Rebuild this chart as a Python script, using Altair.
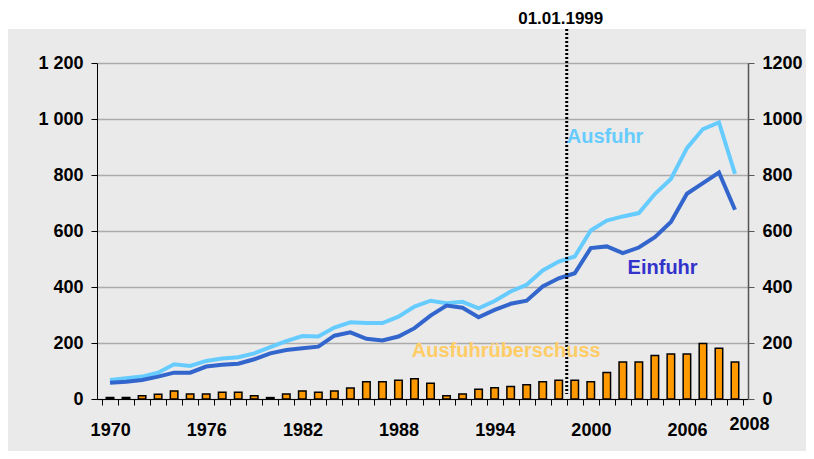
import altair as alt
import pandas as pd

years = list(range(1970, 2010))
ausfuhr = [68, 74, 80, 94, 124, 118, 136, 145, 149, 163, 185, 207, 225, 223, 255,
           274, 271, 271, 294, 330, 351, 342, 347, 324, 350, 384, 408, 459, 491, 509,
           602, 637, 652, 664, 732, 786, 896, 964, 988, 804]
einfuhr = [58, 62, 68, 80, 94, 94, 116, 122, 126, 142, 163, 175, 181, 187, 226,
           238, 215, 209, 223, 253, 298, 334, 326, 292, 318, 340, 351, 402, 431, 449,
           539, 545, 521, 541, 578, 632, 733, 771, 809, 676]
ueberschuss = [5, 5, 12, 17, 29, 18, 18, 24, 24, 12, 5, 18, 29, 24, 29,
               39, 62, 62, 67, 72, 56, 12, 18, 35, 40, 45, 51, 62, 67, 67,
               62, 95, 132, 132, 155, 161, 161, 198, 181, 132]
series_names = ["Ausfuhr", "Einfuhr"]
series_colors = ["#66CCFF", "#3366CC"]
y_ticks = [0, 200, 400, 600, 800, 1000, 1200]
x_label_years = [1970, 1976, 1982, 1988, 1994, 2000, 2006]
euro_start = 1998.5  # boundary 1998/1999

FONT = "Liberation Sans"

bars_df = pd.DataFrame({"year": years, "value": ueberschuss})
lines_df = pd.DataFrame({
    "year": years * 2,
    "value": ausfuhr + einfuhr,
    "series": ["Ausfuhr"] * len(years) + ["Einfuhr"] * len(years),
})

xs = alt.Scale(domain=[1969.5, 2009.5], nice=False, zero=False)
ys = alt.Scale(domain=[0, 1200], nice=False, zero=False)

boundaries = [1969.5 + i for i in range(len(years) + 1)]
label_expr = ("indexof([" + ",".join(str(y - 0.5) for y in x_label_years) +
              "], datum.value) >= 0 ? format(datum.value + 0.5, 'd') : ''")

x_axis = alt.Axis(values=boundaries, labelExpr=label_expr, labelOffset=8.14,
                  tickSize=6, tickColor="black", domainColor="black", domainWidth=1,
                  labelFont=FONT, labelFontSize=18, labelFontWeight="bold",
                  labelColor="black", labelPadding=16, labelOverlap=False,
                  labelFlush=False, labelBound=False, grid=False, title=None)

y_left = alt.Axis(values=y_ticks, orient="left",
                  labelExpr="replace(format(datum.value, ','), ',', ' ')",
                  tickSize=6, tickColor="black", domainColor="black",
                  labelFont=FONT, labelFontSize=18, labelFontWeight="bold",
                  labelColor="black", labelPadding=8, grid=True,
                  gridColor="#ABABAB", gridWidth=1.5, title=None)

y_right = alt.Axis(values=y_ticks, orient="right", format="d",
                   tickSize=6, tickColor="#555555", domainColor="#555555",
                   domainWidth=1.5, labelFont=FONT, labelFontSize=18,
                   labelFontWeight="bold", labelColor="black", labelPadding=8,
                   grid=False, title=None)

strip = alt.Chart(pd.DataFrame({"a": [0]})).mark_rect(color="white").encode(
    x=alt.value(-89), x2=alt.value(709), y=alt.value(-55), y2=alt.value(-34))

bars = alt.Chart(bars_df).mark_bar(size=7.5, color="#FF9900", stroke="black",
                                   strokeWidth=1.5).encode(
    x=alt.X("year:Q", scale=xs, axis=x_axis),
    y=alt.Y("value:Q", scale=ys, axis=y_left),
)

lines = alt.Chart(lines_df).mark_line(strokeWidth=4).encode(
    x=alt.X("year:Q", scale=xs, axis=None),
    y=alt.Y("value:Q", scale=ys, axis=y_right),
    color=alt.Color("series:N", scale=alt.Scale(domain=series_names, range=series_colors),
                    legend=None),
)

rule = alt.Chart(pd.DataFrame({"x": [euro_start]})).mark_rule(
    color="black", strokeWidth=3, strokeDash=[2, 2]).encode(
    x=alt.X("x:Q", scale=xs, axis=None),
    y=alt.value(-34), y2=alt.value(331))


def label(x, y, text, color, size, align="left", dx=0):
    return alt.Chart(pd.DataFrame({"x": [x], "y": [y], "t": [text]})).mark_text(
        font=FONT, fontWeight="bold", fontSize=size, color=color,
        align=align, baseline="middle", dx=dx).encode(
        x=alt.X("x:Q", scale=xs, axis=None),
        y=alt.Y("y:Q", scale=ys, axis=None),
        text="t:N")


header = label(euro_start, 1358, "01.01.1999", "black", 17, align="center", dx=-6)
lab_aus = label(1998.5, 937, "Ausfuhr", "#66CCFF", 20)
lab_ein = label(2002.3, 467, "Einfuhr", "#3333CC", 20)
lab_ueb = label(1988.83, 172, "Ausfuhrüberschuss", "#FFCC66", 20)
lab_2008 = label(2009.9, -93, "2008", "black", 18, align="center")

chart = alt.layer(strip, bars, lines, rule, header, lab_aus, lab_ein, lab_ueb, lab_2008).resolve_axis(
    x="independent", y="independent"
).properties(
    width=651, height=336,
    autosize=alt.AutoSizeParams(type="none"),
    padding={"left": 89, "top": 55, "right": 58, "bottom": 52},
    background="#EAEAEA",
).configure_view(stroke=None)

chart.save("out.html", embed_options={"renderer": "svg", "actions": False})
